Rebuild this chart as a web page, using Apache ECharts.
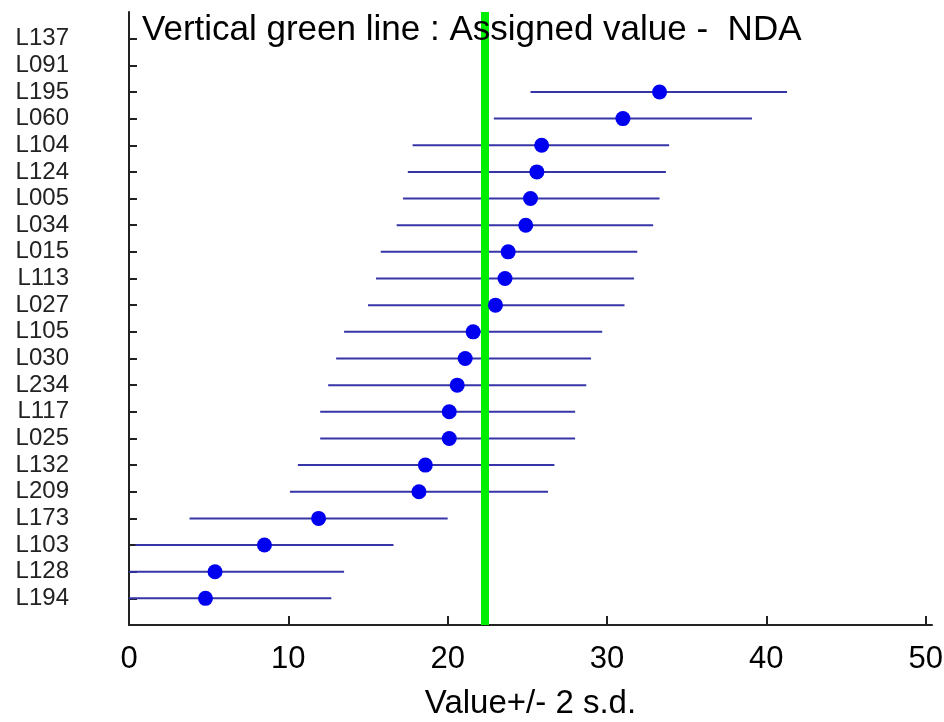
<!DOCTYPE html>
<html>
<head>
<meta charset="utf-8">
<script src="https://cdn.jsdelivr.net/npm/echarts@6/dist/echarts.min.js"></script>
<style>
  html, body { margin: 0; padding: 0; background: #fff; }
  #chart { width: 944px; height: 722px; }
</style>
</head>
<body>
<div id="chart"></div>
<script>
// labs listed top to bottom, as in the picture
const labs = ['L137', 'L091', 'L195', 'L060', 'L104', 'L124', 'L005', 'L034', 'L015', 'L113', 'L027',
              'L105', 'L030', 'L234', 'L117', 'L025', 'L132', 'L209', 'L173', 'L103', 'L128', 'L194'];
const means = [null, null, 33.3, 31.0, 25.9, 25.6, 25.2, 24.9, 23.8, 23.6, 23.0,
               21.6, 21.1, 20.6, 20.1, 20.1, 18.6, 18.2, 11.9, 8.5, 5.4, 4.8];
const lows = [null, null, 25.2, 22.9, 17.8, 17.5, 17.2, 16.8, 15.8, 15.5, 15.0,
              13.5, 13.0, 12.5, 12.0, 12.0, 10.6, 10.1, 3.8, 0.4, -2.7, -3.3];
const highs = [null, null, 41.3, 39.1, 33.9, 33.7, 33.3, 32.9, 31.9, 31.7, 31.1,
               29.7, 29.0, 28.7, 28.0, 28.0, 26.7, 26.3, 20.0, 16.6, 13.5, 12.7];
const xTicks = [0, 10, 20, 30, 40, 50];
const assigned = 22.3;

const n = labs.length;
const rows = labs.map((_, i) => n - 1 - i);   // bottom row = 0

const pointData = [];
const barData = [];
for (let i = 0; i < n; i++) {
    if (means[i] == null) continue;
    pointData.push([means[i], rows[i]]);
    barData.push([lows[i], highs[i], rows[i]]);
}

const font = '"Liberation Sans", Arial, sans-serif';
const chart = echarts.init(document.getElementById('chart'));

chart.setOption({
    animation: false,
    title: {
        text: 'Vertical green line : Assigned value -  NDA',
        left: 137,
        top: 8,
        z: 20,
        textStyle: { fontFamily: font, fontSize: 35, fontWeight: 'normal', color: '#000' }
    },
    grid: { left: 129, right: 12, top: 12, bottom: 97, outerBoundsMode: 'none', containLabel: false },
    xAxis: {
        type: 'value',
        min: 0,
        max: 50.4,
        name: 'Value+/- 2 s.d.',
        nameLocation: 'middle',
        nameGap: 62,
        nameTextStyle: { fontFamily: font, fontSize: 33, color: '#000' },
        splitLine: { show: false },
        axisLine: { show: true, onZero: false, lineStyle: { color: '#222', width: 2 } },
        axisTick: { show: true, inside: true, length: 9, customValues: xTicks, lineStyle: { color: '#222', width: 2 } },
        axisLabel: { customValues: xTicks, margin: 19, fontFamily: font, fontSize: 31, color: '#000' }
    },
    yAxis: {
        type: 'value',
        min: -1,
        max: 22,
        splitLine: { show: false },
        axisLine: { show: true, onZero: false, lineStyle: { color: '#222', width: 2 } },
        axisTick: { show: true, inside: true, length: 8, customValues: rows, lineStyle: { color: '#222', width: 2 } },
        axisLabel: {
            customValues: rows,
            margin: 60,
            fontFamily: font,
            fontSize: 24,
            color: '#222',
            formatter: v => labs[n - 1 - v]
        }
    },
    series: [
        {
            type: 'custom',
            clip: true,
            z: 2,
            data: barData,
            renderItem: (params, api) => {
                const a = api.coord([api.value(0), api.value(2)]);
                const b = api.coord([api.value(1), api.value(2)]);
                return {
                    type: 'line',
                    shape: { x1: a[0], y1: a[1], x2: b[0], y2: b[1] },
                    style: { stroke: '#3535a8', lineWidth: 2 }
                };
            }
        },
        {
            type: 'scatter',
            z: 4,
            symbol: 'circle',
            symbolSize: 15,
            itemStyle: { color: '#0000f0', opacity: 1 },
            data: pointData,
            markLine: {
                silent: true,
                symbol: 'none',
                z: 3,
                label: { show: false },
                lineStyle: { color: '#00ee00', width: 8, type: 'solid', opacity: 1 },
                data: [{ xAxis: assigned }]
            }
        }
    ]
});
</script>
</body>
</html>
